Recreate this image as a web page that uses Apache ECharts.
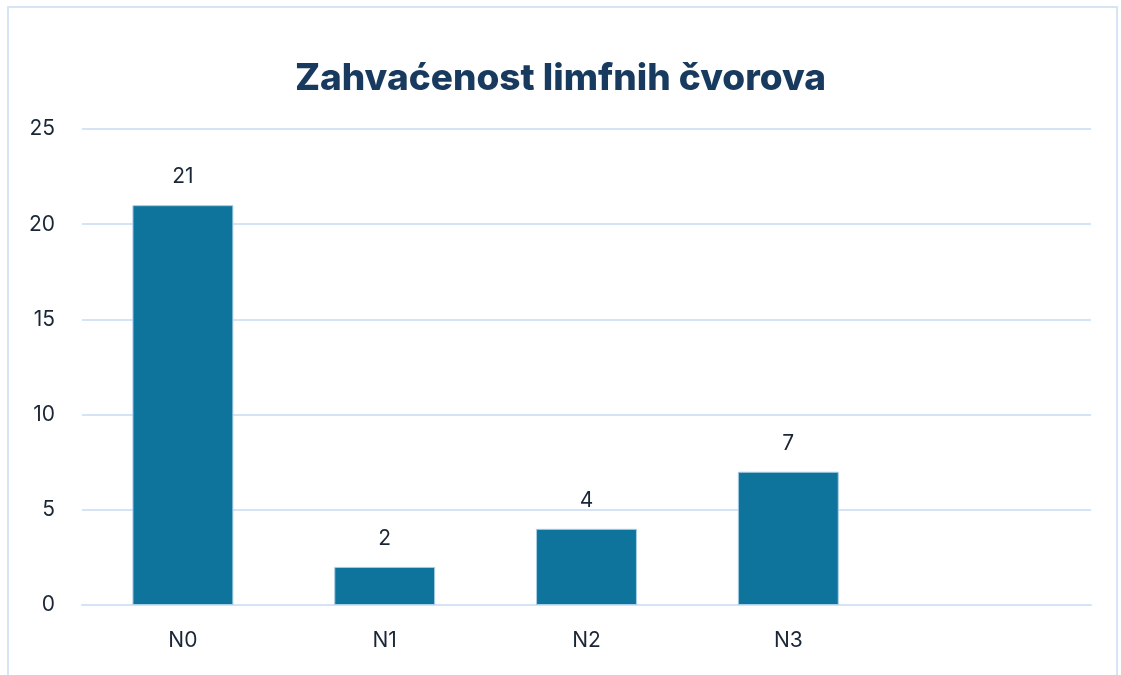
<!DOCTYPE html>
<html>
<head>
<meta charset="utf-8">
<title>Zahvaćenost limfnih čvorova</title>
<script src="https://cdn.jsdelivr.net/npm/echarts@6/dist/echarts.min.js"></script>
<style>
  html, body { margin: 0; padding: 0; background: #fff; }
  #main { width: 1121px; height: 675px; }
</style>
</head>
<body>
<div id="main"></div>
<script type="text/javascript">
// podaci
var categories = ['N0', 'N1', 'N2', 'N3', ''];
var values = [21, 2, 4, 7, null];
var yTicks = { min: 0, max: 25, interval: 5 };

var chart = echarts.init(document.getElementById('main'));

var option = {
    animation: false,
    textStyle: { fontFamily: 'Inter, Roboto, sans-serif' },
    title: {
        text: 'Zahvaćenost limfnih čvorova',
        left: 'center',
        top: 55,
        textStyle: {
            fontFamily: 'Inter, Roboto, sans-serif',
            fontSize: 37,
            fontWeight: 800,
            color: '#173a5e'
        }
    },
    // svijetloplavi okvir oko grafikona
    graphic: [{
        type: 'rect',
        silent: true,
        shape: { x: 8, y: 7, width: 1109, height: 700 },
        style: { fill: 'none', stroke: '#d6e5f6', lineWidth: 2 }
    }],
    grid: {
        left: 82,
        right: 30,
        top: 129,
        bottom: 70
    },
    xAxis: {
        type: 'category',
        data: categories,
        axisLine: { lineStyle: { color: '#d4e3f5', width: 2 } },
        axisTick: { show: false },
        axisLabel: {
            margin: 25,
            fontSize: 21,
            color: '#1a2636'
        }
    },
    yAxis: {
        type: 'value',
        min: yTicks.min,
        max: yTicks.max,
        interval: yTicks.interval,
        axisLine: { show: false },
        axisTick: { show: false },
        axisLabel: {
            margin: 27,
            fontSize: 21,
            color: '#1a2636'
        },
        splitLine: { lineStyle: { color: '#d4e3f5', width: 2 } }
    },
    series: [{
        name: 'Zahvaćenost limfnih čvorova',
        type: 'bar',
        barWidth: '50%',
        data: values,
        itemStyle: {
            color: '#0e749c',
            borderColor: '#a9cde6',
            borderWidth: 1
        },
        label: {
            show: true,
            position: 'top',
            distance: 18,
            fontSize: 21,
            color: '#1a2636'
        }
    }]
};

chart.setOption(option);
</script>
</body>
</html>
